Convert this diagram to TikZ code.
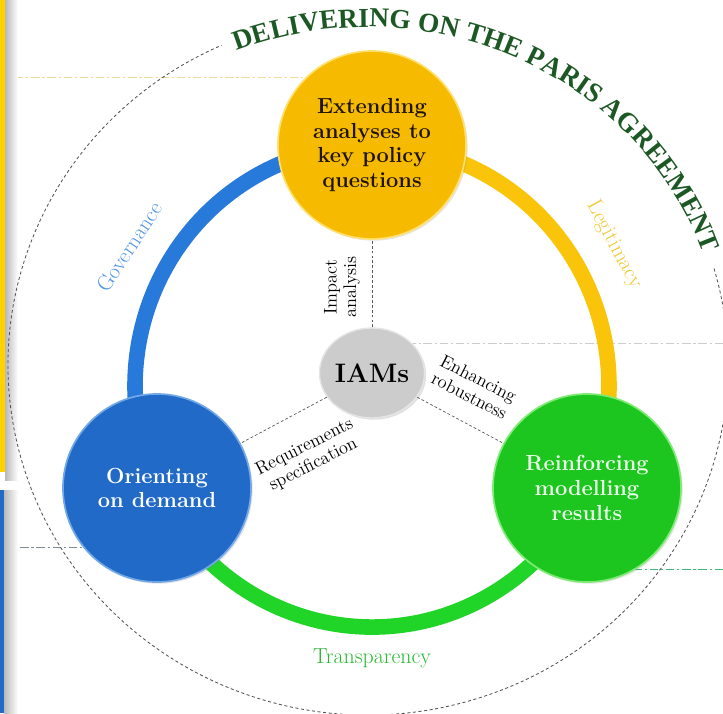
\documentclass[tikz,border=0pt]{standalone}
\usepackage{fontspec}
\usepackage{tikz}
\usetikzlibrary{decorations.text,shapes.geometric,backgrounds,shadows}

\newfontfamily\titlefont{Liberation Serif}

\definecolor{titlegreen}{RGB}{28,88,36}
\definecolor{gold}{RGB}{246,186,0}
\definecolor{goldrim}{RGB}{255,224,110}
\definecolor{deepblue}{RGB}{33,106,200}
\definecolor{bluerim}{RGB}{115,168,232}
\definecolor{leaf}{RGB}{28,198,30}
\definecolor{leafrim}{RGB}{125,235,115}
\definecolor{ringblue}{RGB}{40,122,218}
\definecolor{ringgold}{RGB}{250,196,10}
\definecolor{ringgreen}{RGB}{32,212,40}
\definecolor{govtext}{RGB}{80,150,228}
\definecolor{legtext}{RGB}{240,200,50}
\definecolor{transtext}{RGB}{40,185,50}
\definecolor{hubgrey}{RGB}{204,204,204}
\definecolor{baryellow}{RGB}{255,210,0}
\definecolor{guideyellow}{RGB}{236,220,150}
\definecolor{guideslate}{RGB}{130,140,160}
\definecolor{guidegreen}{RGB}{60,190,120}

\begin{document}
\begin{tikzpicture}[x=0.025cm, y=0.025cm,
    pillar/.style={circle, minimum size=4.7cm, inner sep=0pt, align=center, line width=1.2pt,
        font=\fontsize{15.5}{17.5}\selectfont\bfseries,
        drop shadow={opacity=0.2, shadow xshift=1.2pt, shadow yshift=-1.2pt}},
    hub/.style={ellipse, minimum width=2.5cm, minimum height=2.25cm, inner sep=0pt, fill=hubgrey,
        draw=gray!20, line width=1pt, font=\fontsize{19}{19}\selectfont\bfseries,
        drop shadow={opacity=0.25, shadow xshift=1.2pt, shadow yshift=-1.2pt}},
    link/.style={gray!70!black, dash pattern=on 2pt off 1.5pt, line width=0.5pt},
    linklabel/.style={align=center, font=\fontsize{13}{14}\selectfont},
    ringlabel/.style={font=\fontsize{15.5}{16}\selectfont},
    ring/.style={line width=0.39cm},
    guide/.style={dash pattern=on 6pt off 2pt on 1.5pt off 2pt, line width=0.6pt}]
    \useasboundingbox (0,0) rectangle (723,-713);
    \fill[baryellow] (0,0) rectangle (5,-472);
    \shade[left color=gray!55, right color=white] (5,0) rectangle (18,-480);
    \fill[deepblue] (0,-490) rectangle (4,-713);
    \shade[left color=gray!55, right color=white] (4,-490) rectangle (18,-713);
    \coordinate (bigc) at (368,-365);
    \draw[gray!65!black, dash pattern=on 2.2pt off 1.8pt, line width=0.6pt]
        ([shift={(16:360 and 350)}]bigc) arc[start angle=16, end angle=-246, x radius=360, y radius=350];
    \path[decorate, decoration={text along path, text align=center, text color=titlegreen,
        text={|\titlefont\fontsize{19.5}{19.5}\selectfont\bfseries|DELIVERING ON THE PARIS AGREEMENT}}]
        ([shift={(112:355 and 338)}]bigc) arc[start angle=112, end angle=19, x radius=355, y radius=338];
    \coordinate (ringc) at (372,-386);
    \draw[ring, ringblue] ([shift={(90:237 and 241)}]ringc) arc[start angle=90, end angle=205, x radius=237, y radius=241];
    \draw[ring, ringgold] ([shift={(90:237 and 241)}]ringc) arc[start angle=90, end angle=-25, x radius=237, y radius=241];
    \draw[ring, ringgreen] ([shift={(205:237 and 241)}]ringc) arc[start angle=205, end angle=335, x radius=237, y radius=241];
    \node[pillar, fill=gold, draw=goldrim, text=black!85!brown] (extend) at (372,-145) {Extending\\analyses to\\key policy\\questions};
    \node[pillar, fill=deepblue, draw=bluerim, text=white] (orient) at (157,-488) {Orienting\\on demand};
    \node[pillar, fill=leaf, draw=leafrim, text=white!92!green] (reinf) at (587,-488) {Reinforcing\\modelling\\results};
    \node[hub] (iams) at (372,-373) {IAMs};
    \begin{scope}[on background layer]
        \coordinate (yguide) at (15,-77);
        \draw[guide, guideyellow] (yguide) -- (yguide -| extend);
        \coordinate (gguide) at (723,-343);
        \draw[guide, gray!40] (gguide) -- (gguide -| iams);
        \coordinate (bguide) at (4,-547);
        \draw[guide, guideslate] (bguide) -- (bguide -| orient);
        \coordinate (lguide) at (723,-569);
        \draw[guide, guidegreen] (lguide) -- (lguide -| reinf);
    \end{scope}
    \draw[link] (iams) -- (extend);
    \draw[link] (iams) -- (reinf);
    \draw[link] (iams) -- (orient);
    \node[ringlabel, text=govtext, rotate=57] (gov) at (129,-247) {Governance};
    \node[ringlabel, text=legtext, rotate=-62] (legit) at (614,-245) {Legitimacy};
    \node[ringlabel, text=transtext] (transp) at (372,-658) {Transparency};
    \node[linklabel, rotate=90] (impact) at (342,-287) {Impact\\analysis};
    \node[linklabel, rotate=-27] (robust) at (474,-387) {Enhancing\\robustness};
    \node[linklabel, rotate=27] (reqs) at (309,-456) {Requirements\\specification};
\end{tikzpicture}
\end{document}
